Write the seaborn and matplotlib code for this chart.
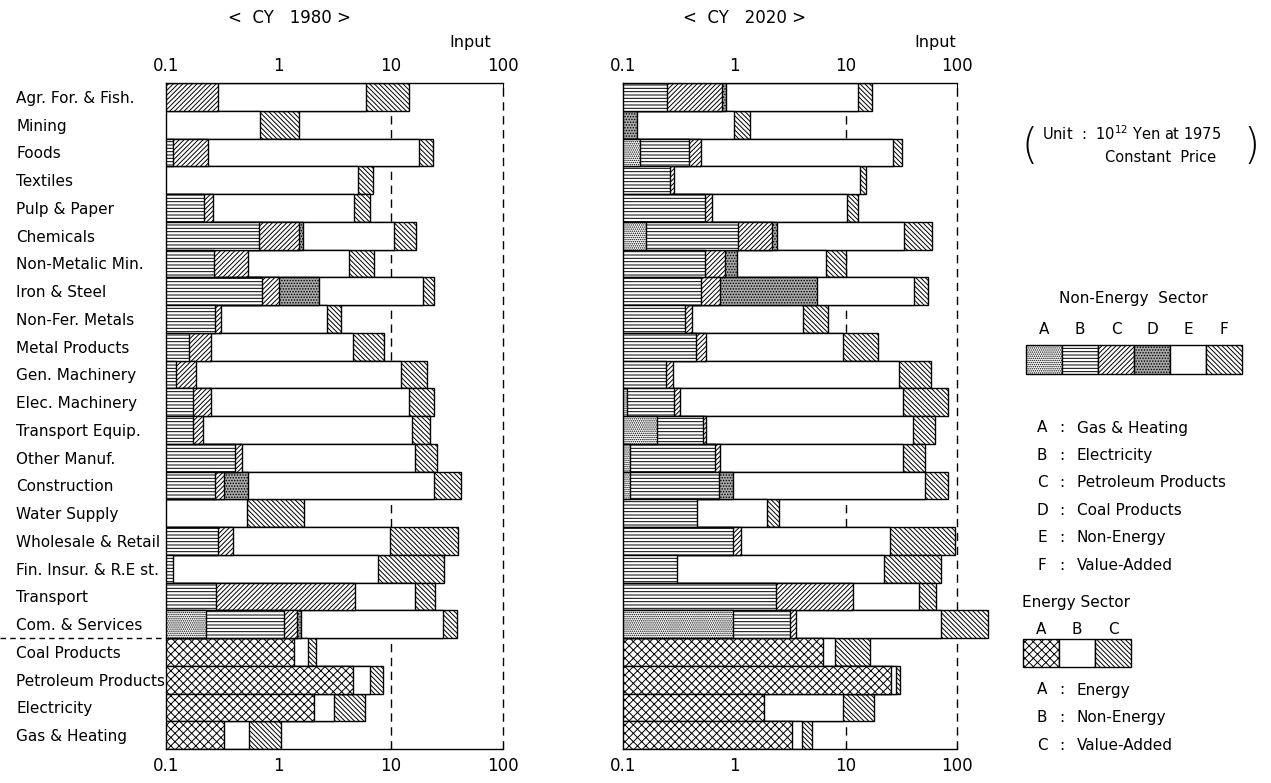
import numpy as np
import pandas as pd
import matplotlib
matplotlib.use("Agg")
import matplotlib.pyplot as plt
import matplotlib.patches as mpatches
from matplotlib.ticker import NullLocator
import seaborn as sns

N = None

sectors = ["Agr. For. & Fish.", "Mining", "Foods", "Textiles", "Pulp & Paper",
           "Chemicals", "Non-Metalic Min.", "Iron & Steel", "Non-Fer. Metals",
           "Metal Products", "Gen. Machinery", "Elec. Machinery",
           "Transport Equip.", "Other Manuf.", "Construction", "Water Supply",
           "Wholesale & Retail", "Fin. Insur. & R.E st.", "Transport",
           "Com. & Services", "Coal Products", "Petroleum Products",
           "Electricity", "Gas & Heating"]

# cumulative right end of each segment (10^12 Yen, log scale), None = not shown
# ---- CY 1980 ----
gas_1980 = [N] * 19 + [0.228] + [N] * 4
elec_1980 = [N, N, 0.116, N, 0.218, 0.68, 0.267, 0.71, 0.273, 0.161, 0.124, 0.175,
             0.173, 0.411, 0.273, N, 0.29, 0.115, 0.28, 1.13, N, N, N, N]
petro_1980 = [0.29, N, 0.238, N, 0.264, 1.53, 0.54, 1.02, 0.307, 0.25, 0.185, 0.25,
              0.215, 0.472, 0.328, N, 0.395, N, 4.81, 1.47, N, N, N, N]
coal_1980 = [N, N, N, N, N, 1.67, N, 2.32, N, N, N, N, N, N, 0.54, N, N, N, N,
             1.58, N, N, N, N]
energy_1980 = [N] * 20 + [1.38, 4.59, 2.06, 0.327]
nonenergy_1980 = [6.1, 0.69, 18.0, 5.1, 4.75, 10.8, 4.28, 19.6, 2.70, 4.66, 12.4,
                  14.7, 15.4, 16.5, 24.5, 0.525, 9.87, 7.78, 16.4, 29.2,
                  1.82, 6.57, 3.12, 0.551]
total_1980 = [14.7, 1.53, 24.0, 7.0, 6.56, 16.8, 7.1, 24.5, 3.62, 8.8, 20.9, 24.3,
              22.4, 26.1, 42.4, 1.70, 39.5, 29.6, 24.9, 39.3, 2.18, 8.56, 5.94, 1.06]

# ---- CY 2020 ----
gas_2020 = [N, N, 0.143, N, N, 0.16, N, N, N, N, N, 0.109, 0.202, 0.115, 0.115,
            N, N, N, N, 0.966, N, N, N, N]
elec_2020 = [0.249, N, 0.39, 0.263, 0.551, 1.08, 0.55, 0.50, 0.359, 0.457, 0.242,
             0.286, 0.518, 0.668, 0.731, 0.467, 0.98, 0.307, 2.35, 3.14, N, N, N, N]
petro_2020 = [0.778, N, 0.497, 0.286, 0.624, 2.19, 0.822, 0.741, 0.418, 0.562,
              0.282, 0.324, 0.562, 0.741, N, N, 1.15, N, 11.7, 3.61, N, N, N, N]
coal_2020 = [0.851, 0.134, N, N, N, 2.40, 1.05, 5.5, N, N, N, N, N, N, 0.964,
             N, N, N, N, N, N, N, N, N]
energy_2020 = [N] * 20 + [6.29, 25.5, 1.83, 3.30]
nonenergy_2020 = [12.9, 0.99, 26.9, 13.5, 10.4, 33.8, 6.62, 41.3, 4.17, 9.42, 30.5,
                  32.7, 40.7, 33.1, 51.2, 1.96, 25.2, 22.3, 45.4, 72.6,
                  8.01, 28.5, 9.53, 4.06]
total_2020 = [17.2, 1.38, 32.4, 15.2, 12.9, 59.6, 10.1, 54.5, 7.0, 19.7, 58.8, 82.4,
              63.8, 51.2, 82.4, 2.52, 95.3, 72.6, 65.0, 190.0, 16.4, 31.0, 18.0, 5.03]

xticks = [0.1, 1, 10, 100]
xtick_labels = ["0.1", "1", "10", "100"]


def make_df(a, b, c, d, en, e, f):
    cols = {"A": a, "B": b, "C": c, "D": d, "En": en, "E": e, "F": f}
    df = pd.DataFrame({"sector": sectors})
    for k, v in cols.items():
        df[k] = [np.nan if x is None else float(x) for x in v]
    return df


df80 = make_df(gas_1980, elec_1980, petro_1980, coal_1980, energy_1980,
               nonenergy_1980, total_1980)
df20 = make_df(gas_2020, elec_2020, petro_2020, coal_2020, energy_2020,
               nonenergy_2020, total_2020)

BS = "\\" * 7
STYLES = {
    "F": ("white", BS),
    "E": ("white", ""),
    "En": ("white", "xxxx"),
    "D": ("#a9a9a9", "......"),
    "C": ("white", "///////"),
    "B": ("white", "-----"),
    "A": ("white", "........"),
}
draw_order = ["F", "E", "En", "D", "C", "B", "A"]

sns.set_theme(style="white")
plt.rcParams["font.family"] = ["DejaVu Sans"]
plt.rcParams["hatch.linewidth"] = 0.7
plt.rcParams["hatch.color"] = "black"
for key in ["text.color", "axes.labelcolor", "xtick.color", "ytick.color"]:
    plt.rcParams[key] = "black"

W, H = 1271, 783
fig = plt.figure(figsize=(W / 100, H / 100), dpi=100)

ov = fig.add_axes([0, 0, 1, 1])
ov.set_xlim(0, W)
ov.set_ylim(H, 0)
ov.axis("off")
ov.patch.set_visible(False)


def px_axes(x0, x1, y0, y1):
    return fig.add_axes([x0 / W, 1 - y1 / H, (x1 - x0) / W, (y1 - y0) / H])


ax80 = px_axes(166, 536.7, 83, 749)
ax20 = px_axes(623, 990.4, 83, 749)


def draw_panel(ax, df):
    ax.set_xscale("log", nonpositive="clip")
    for col in draw_order:
        fc, hatch = STYLES[col]
        sns.barplot(data=df, x=col, y="sector", order=sectors, orient="y",
                    color=fc, saturation=1, edgecolor="black", linewidth=1.0,
                    width=1.0, errorbar=None, ax=ax)
        for p in ax.containers[-1]:
            p.set_hatch(hatch)
            p.set_zorder(2)
    ax.set_xlim(0.1, 200)
    ax.set_ylim(len(sectors) - 0.5, -0.5)
    ax.set_xlabel("")
    ax.set_ylabel("")
    ax.set_xticks(xticks)
    ax.set_xticklabels(xtick_labels)
    ax.xaxis.set_minor_locator(NullLocator())
    ax.tick_params(axis="x", which="both", top=True, bottom=True, labeltop=True,
                   labelbottom=True, direction="in", length=4, width=0.8,
                   labelsize=12, pad=6, colors="black")
    for s in ["left", "bottom", "top"]:
        ax.spines[s].set_visible(True)
        ax.spines[s].set_color("black")
        ax.spines[s].set_linewidth(1.0)
    ax.spines["right"].set_visible(False)
    ax.spines["bottom"].set_bounds(0.1, 100)
    ax.spines["top"].set_bounds(0.1, 100)
    for xv in (10, 100):
        ax.axvline(xv, color="black", lw=1.0, ls=(0, (6, 4)), zorder=1)
    ax.set_facecolor("white")


draw_panel(ax80, df80)
draw_panel(ax20, df20)

ax80.tick_params(axis="y", length=0, pad=108, labelsize=11, colors="black")
for lbl in ax80.get_yticklabels():
    lbl.set_ha("left")
ax20.tick_params(axis="y", length=0, labelleft=False)

# separator between non-energy and energy sectors
ax80.plot([-0.448, 0], [19.5, 19.5], transform=ax80.get_yaxis_transform(),
          color="black", lw=1.0, ls=(0, (4, 3)), clip_on=False)

# titles
ov.text(290, 18, "<  CY   1980 >", ha="center", va="center", fontsize=12)
ov.text(745, 18, "<  CY   2020 >", ha="center", va="center", fontsize=12)
ov.text(470, 42, "Input", ha="center", va="center", fontsize=11.5)
ov.text(935, 42, "Input", ha="center", va="center", fontsize=11.5)

# unit note
ov.text(1030, 146, "(", ha="center", va="center", fontsize=30, fontweight="light")
ov.text(1252, 146, ")", ha="center", va="center", fontsize=30, fontweight="light")
ov.text(1042, 134, "Unit  :  10$^{12}$ Yen at 1975", ha="left", va="center", fontsize=10.5)
ov.text(1105, 158, "Constant  Price", ha="left", va="center", fontsize=10.5)

# non-energy legend
ov.text(1133, 298, "Non-Energy  Sector", ha="center", va="center", fontsize=11)
ne_keys = ["A", "B", "C", "D", "E", "F"]
for i, k in enumerate(ne_keys):
    x0 = 1026 + 36 * i
    ov.text(x0 + 18, 330, k, ha="center", va="center", fontsize=11)
    fc, hatch = STYLES[k]
    ov.add_patch(mpatches.Rectangle((x0, 345), 36, 29, facecolor=fc,
                                    edgecolor="black", hatch=hatch, lw=1.0))
ne_names = ["Gas & Heating", "Electricity", "Petroleum Products", "Coal Products",
            "Non-Energy", "Value-Added"]
for i, (k, name) in enumerate(zip(ne_keys, ne_names)):
    y = 428 + 27.4 * i
    ov.text(1042, y, k, ha="center", va="center", fontsize=11)
    ov.text(1062, y, ":", ha="center", va="center", fontsize=11)
    ov.text(1077, y, name, ha="left", va="center", fontsize=11)

# energy legend
ov.text(1022, 602, "Energy Sector", ha="left", va="center", fontsize=11)
en_keys = ["A", "B", "C"]
en_styles = ["En", "E", "F"]
for i, (k, st) in enumerate(zip(en_keys, en_styles)):
    x0 = 1023 + 36 * i
    ov.text(x0 + 18, 630, k, ha="center", va="center", fontsize=11)
    fc, hatch = STYLES[st]
    ov.add_patch(mpatches.Rectangle((x0, 639), 36, 28, facecolor=fc,
                                    edgecolor="black", hatch=hatch, lw=1.0))
en_names = ["Energy", "Non-Energy", "Value-Added"]
for i, (k, name) in enumerate(zip(en_keys, en_names)):
    y = 690 + 27.5 * i
    ov.text(1042, y, k, ha="center", va="center", fontsize=11)
    ov.text(1062, y, ":", ha="center", va="center", fontsize=11)
    ov.text(1077, y, name, ha="left", va="center", fontsize=11)

fig.savefig("out.png", dpi=100)
